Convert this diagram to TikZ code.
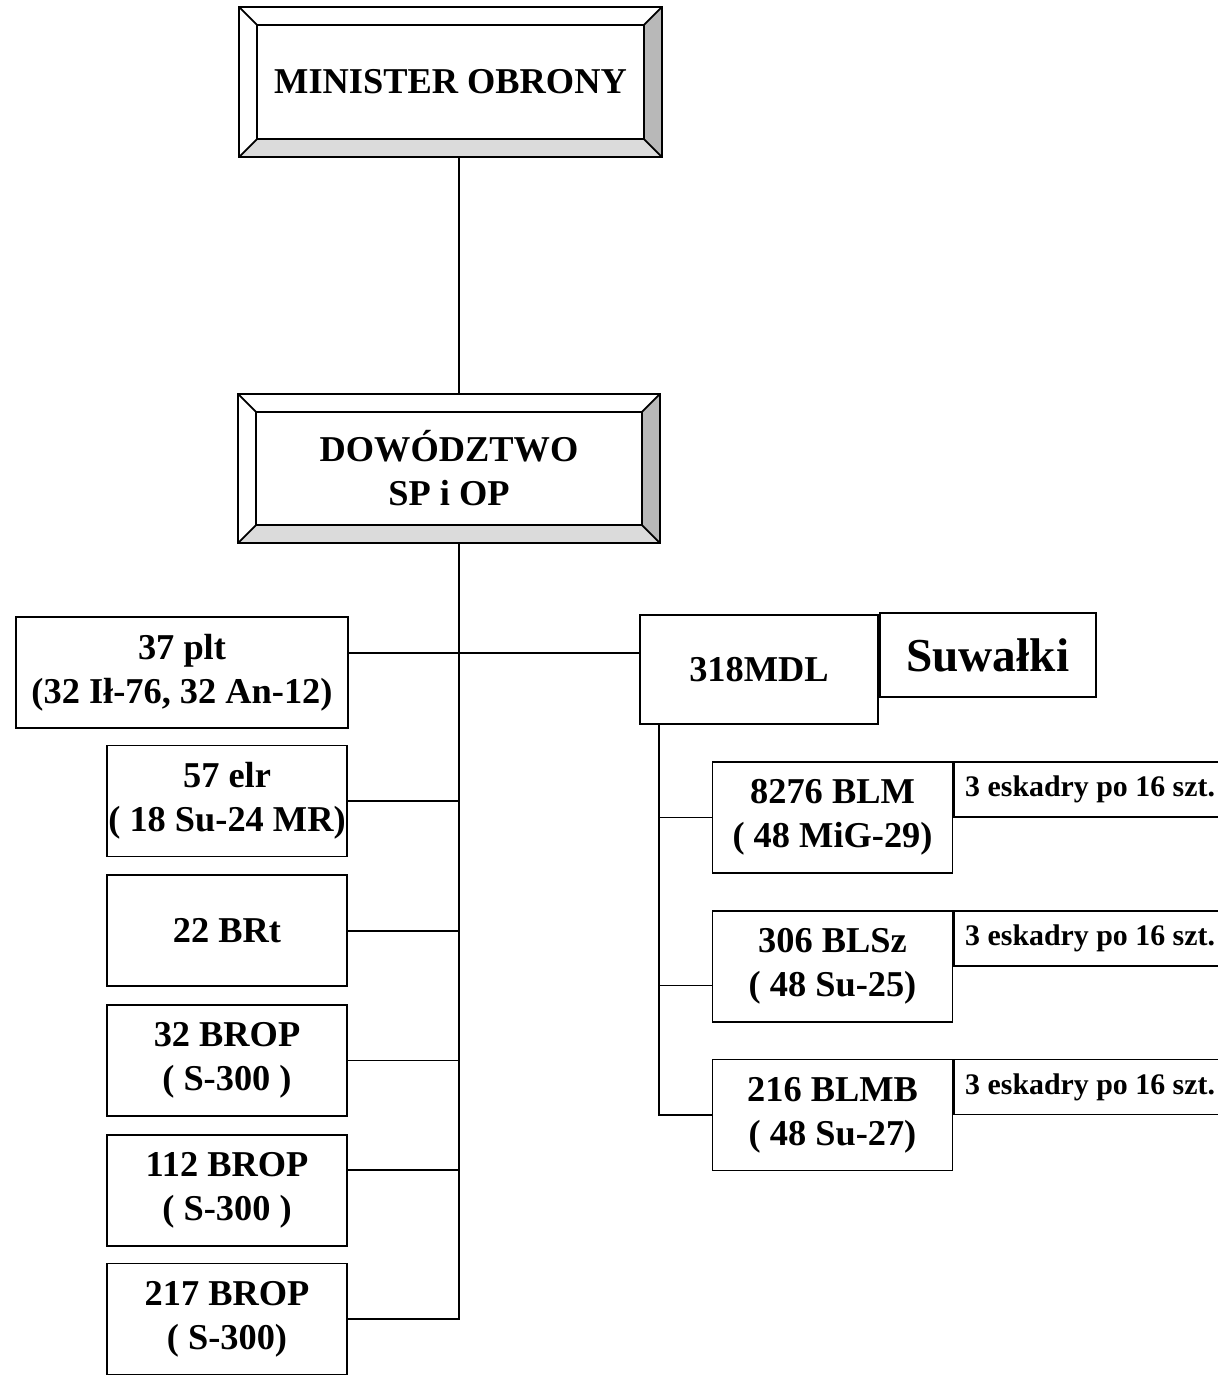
\documentclass[tikz,border=0pt]{standalone}
\usepackage{fontspec}
\setmainfont{Liberation Serif}
\usetikzlibrary{positioning,calc}

% frame with bevelled edges round a head node
\newcommand{\bevelframe}[1]{%
  \fill[black!28] (#1.north east) -- ([shift={(-0.36cm,-0.36cm)}]#1.north east)
    -- ([shift={(-0.36cm,0.36cm)}]#1.south east) -- (#1.south east) -- cycle;
  \fill[black!14] (#1.south west) -- ([shift={(0.36cm,0.36cm)}]#1.south west)
    -- ([shift={(-0.36cm,0.36cm)}]#1.south east) -- (#1.south east) -- cycle;
  \draw ([shift={(0.36cm,0.36cm)}]#1.south west) rectangle ([shift={(-0.36cm,-0.36cm)}]#1.north east);
  \foreach \a/\sx/\sy in {north west/1/-1, north east/-1/-1, south east/-1/1, south west/1/1}
    \draw (#1.\a) -- ++(\sx*0.36cm,\sy*0.36cm);
  \draw (#1.north west) rectangle (#1.south east);
}

\begin{document}
\begin{tikzpicture}[x=0.02cm,y=-0.02cm,line width=1pt]
  \tikzset{every node/.style={inner sep=0pt, align=center, font=\bfseries\fontsize{20.7}{25}\selectfont}}
  \tikzset{head/.style={minimum width=8.42cm, minimum height=2.96cm}}
  \tikzset{unit/.style={draw, minimum width=4.8cm, minimum height=2.22cm}}
  \tikzset{sqn/.style={draw, anchor=north west, minimum height=1.1cm, inner xsep=0.22cm,
      font=\bfseries\fontsize{17}{20}\selectfont}}
  \useasboundingbox (0,0) rectangle (1217,1375);

  \node[head] (min) at (450.5,82) {MINISTER OBRONY};
  \node[head] (dow) at (449,468.5) {DOWÓDZTWO\\SP i OP};
  \bevelframe{min}
  \bevelframe{dow}

  % left column
  \node[unit, minimum width=6.64cm] (plt) at (182,672.5) {37 plt\\(32 Ił-76, 32 An-12)};
  \node[unit] (elr) at (227,801) {57 elr\\( 18 Su-24 MR)};
  \node[unit, below=0.34cm of elr] (brt) {22 BRt};
  \node[unit, below=0.34cm of brt] (brop32) {32 BROP\\( S-300 )};
  \node[unit, below=0.34cm of brop32] (brop112) {112 BROP\\( S-300 )};
  \node[unit, below=0.32cm of brop112] (brop217) {217 BROP\\( S-300)};

  % right column
  \node[unit, minimum width=4.76cm, minimum height=2.18cm] (mdl) at (759,669.5) {318MDL};
  \node[draw, anchor=north west, minimum width=4.32cm, minimum height=1.68cm,
    font=\bfseries\fontsize{26.9}{30}\selectfont] (suw) at ([yshift=0.04cm]mdl.north east) {Suwałki};
  \node[unit] (blm) at (832.5,817.5) {8276 BLM\\( 48 MiG-29)};
  \node[unit, below=0.72cm of blm] (blsz) {306 BLSz\\( 48 Su-25)};
  \node[unit, below=0.72cm of blsz] (blmb) {216 BLMB\\( 48 Su-27)};
  \foreach \u in {blm, blsz, blmb}
    \node[sqn] (sqn-\u) at (\u.north east) {\makebox[6.2cm][l]{3 eskadry po 16 szt.}};

  % connectors
  \coordinate (ltrunk) at (459,0);
  \coordinate (rtrunk) at (659,0);
  \coordinate (hub) at (459,653);
  \coordinate (k112) at ($(brop112.north east)!0.32!(brop112.south east)$);
  \coordinate (k306) at ($(blsz.north west)!0.67!(blsz.south west)$);
  \draw (min.south -| ltrunk) -- (dow.north -| ltrunk);
  \draw (dow.south -| ltrunk) |- (brop217.east);
  \draw (plt.east |- hub) -- (mdl.west |- hub);
  \foreach \u in {elr, brt, brop32}
    \draw (\u.east) -- (\u.east -| ltrunk);
  \draw (k112) -- (k112 -| ltrunk);
  \draw (mdl.south -| rtrunk) |- (blmb.west);
  \draw (blm.west) -- (blm.west -| rtrunk);
  \draw (k306) -- (k306 -| rtrunk);
\end{tikzpicture}
\end{document}
